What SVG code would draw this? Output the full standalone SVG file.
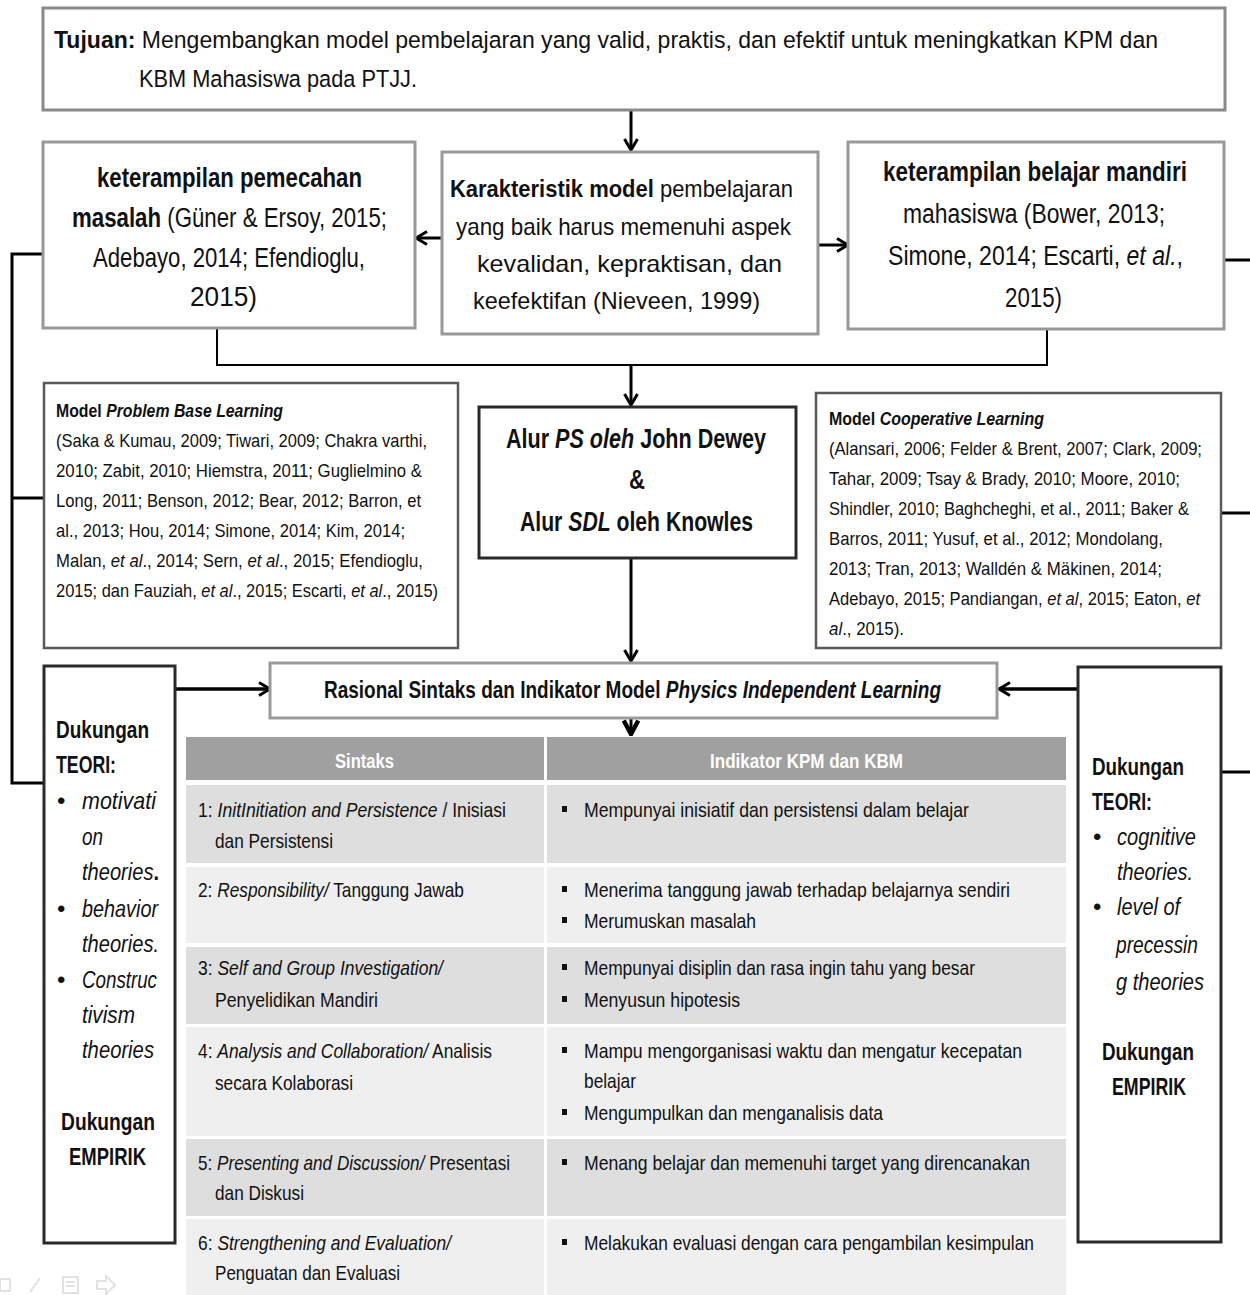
<svg xmlns="http://www.w3.org/2000/svg" width="1250" height="1295" viewBox="0 0 1250 1295">
<style>
text{font-family:'Liberation Sans',Arial,sans-serif;fill:#111}
.s26{font-size:27px}
.s22{font-size:24px}
.s24{font-size:24.5px}
.s19{font-size:19px}
.tb{font-size:21px}
.b{font-weight:bold}
.i{font-style:italic}
.wh{fill:#fff;font-weight:bold;font-size:20px}
.conn{stroke:#000;fill:none}
.boxg{fill:#fff;stroke:#999;stroke-width:3}
.boxd{fill:#fff;stroke:#2a2a2a;stroke-width:3}
.boxm{fill:#fff;stroke:#5a5a5a;stroke-width:2.5}
.rd{fill:#dedede}
.rl{fill:#efefef}
</style>
<defs>
<marker id="chev" viewBox="0 0 16 16" refX="14" refY="8" markerWidth="16" markerHeight="16" markerUnits="userSpaceOnUse" orient="auto">
<path d="M3,1.5 L14,8 L3,14.5" fill="none" stroke="#000" stroke-width="3"/>
</marker>
<marker id="chevb" viewBox="0 0 16 16" refX="14" refY="8" markerWidth="18" markerHeight="18" markerUnits="userSpaceOnUse" orient="auto">
<path d="M2,1.5 L14,8 L2,14.5" fill="none" stroke="#000" stroke-width="4"/>
</marker>
</defs>
<rect width="1250" height="1295" fill="#fff"/>

<g id="connectors">
<line class="conn" stroke-width="3" x1="631" y1="111" x2="631" y2="150" marker-end="url(#chev)"/>
<line class="conn" stroke-width="3" x1="442" y1="238" x2="416" y2="238" marker-end="url(#chev)"/>
<line class="conn" stroke-width="3" x1="818" y1="245" x2="848" y2="245" marker-end="url(#chev)"/>
<polyline class="conn" stroke-width="2" points="217,329 217,365 1047,365 1047,329"/>
<line class="conn" stroke-width="3" x1="631" y1="365" x2="631" y2="405" marker-end="url(#chev)"/>
<line class="conn" stroke-width="3" x1="631" y1="558" x2="631" y2="661" marker-end="url(#chev)"/>
<line class="conn" stroke-width="3" x1="631" y1="718" x2="631" y2="734" marker-end="url(#chevb)"/>
<line class="conn" stroke-width="3.5" x1="176" y1="689" x2="270" y2="689" marker-end="url(#chev)"/>
<line class="conn" stroke-width="3.5" x1="1078" y1="689" x2="999" y2="689" marker-end="url(#chev)"/>
<polyline class="conn" stroke-width="3" points="43,254 12,254 12,783 44,783"/>
<line class="conn" stroke-width="3" x1="12" y1="498" x2="43" y2="498"/>
<line class="conn" stroke-width="3" x1="1225" y1="260" x2="1250" y2="260"/>
<line class="conn" stroke-width="3" x1="1221" y1="513" x2="1250" y2="513"/>
<line class="conn" stroke-width="3" x1="1221" y1="772" x2="1250" y2="772"/>
</g>

<g id="tujuan">
<rect x="43" y="8" width="1182" height="102" fill="#fff" stroke="#8a8a8a" stroke-width="3"/>
<text class="s24" x="54" y="48" textLength="1104" lengthAdjust="spacingAndGlyphs"><tspan class="b">Tujuan:</tspan> Mengembangkan model pembelajaran yang valid, praktis, dan efektif untuk meningkatkan KPM dan</text>
<text class="s24" x="139" y="87" textLength="278" lengthAdjust="spacingAndGlyphs">KBM Mahasiswa pada PTJJ.</text>
</g>

<g id="kpm">
<rect class="boxg" x="43" y="142" width="372" height="186"/>
<text class="s26 b" x="97" y="187" textLength="265" lengthAdjust="spacingAndGlyphs">keterampilan pemecahan</text>
<text class="s26" x="72" y="227" textLength="315" lengthAdjust="spacingAndGlyphs"><tspan class="b">masalah</tspan> (Güner &amp; Ersoy, 2015;</text>
<text class="s26" x="93" y="267" textLength="272" lengthAdjust="spacingAndGlyphs">Adebayo, 2014; Efendioglu,</text>
<text class="s26" x="190" y="306" textLength="67" lengthAdjust="spacingAndGlyphs">2015)</text>
</g>

<g id="karakteristik">
<rect class="boxg" x="442" y="152" width="376" height="182"/>
<text class="s22" x="450" y="197" textLength="343" lengthAdjust="spacingAndGlyphs"><tspan class="b">Karakteristik model</tspan> pembelajaran</text>
<text class="s22" x="456" y="235" textLength="335" lengthAdjust="spacingAndGlyphs">yang baik harus memenuhi aspek</text>
<text class="s22" x="477" y="272" textLength="305" lengthAdjust="spacingAndGlyphs">kevalidan, kepraktisan, dan</text>
<text class="s22" x="473" y="309" textLength="287" lengthAdjust="spacingAndGlyphs">keefektifan (Nieveen, 1999)</text>
</g>

<g id="kbm">
<rect class="boxg" x="848" y="142" width="376" height="187"/>
<text class="s26 b" x="883" y="181" textLength="304" lengthAdjust="spacingAndGlyphs">keterampilan belajar mandiri</text>
<text class="s26" x="903" y="223" textLength="262" lengthAdjust="spacingAndGlyphs">mahasiswa  (Bower, 2013;</text>
<text class="s26" x="888" y="265" textLength="295" lengthAdjust="spacingAndGlyphs">Simone, 2014; Escarti, <tspan class="i">et al.</tspan>,</text>
<text class="s26" x="1005" y="307" textLength="57" lengthAdjust="spacingAndGlyphs">2015)</text>
</g>

<g id="pbl">
<rect class="boxm" x="44" y="383" width="414" height="265"/>
<text class="s19 b" x="56" y="417" textLength="227" lengthAdjust="spacingAndGlyphs">Model <tspan class="i">Problem Base Learning</tspan></text>
<text class="s19" x="56" y="447" textLength="371" lengthAdjust="spacingAndGlyphs">(Saka &amp; Kumau, 2009; Tiwari, 2009; Chakra varthi,</text>
<text class="s19" x="56" y="477" textLength="366" lengthAdjust="spacingAndGlyphs">2010; Zabit, 2010; Hiemstra, 2011; Guglielmino &amp;</text>
<text class="s19" x="56" y="507" textLength="365" lengthAdjust="spacingAndGlyphs">Long, 2011; Benson, 2012; Bear, 2012; Barron, et</text>
<text class="s19" x="56" y="537" textLength="349" lengthAdjust="spacingAndGlyphs">al., 2013; Hou, 2014; Simone, 2014; Kim, 2014;</text>
<text class="s19" x="56" y="567" textLength="367" lengthAdjust="spacingAndGlyphs">Malan, <tspan class="i">et al</tspan>., 2014; Sern, <tspan class="i">et al</tspan>., 2015; Efendioglu,</text>
<text class="s19" x="56" y="597" textLength="382" lengthAdjust="spacingAndGlyphs">2015; dan Fauziah, <tspan class="i">et al</tspan>., 2015; Escarti, <tspan class="i">et al</tspan>., 2015)</text>
</g>

<g id="alur">
<rect class="boxd" x="479" y="407" width="317" height="151" stroke-width="3.5"/>
<text class="s26 b" x="506" y="448" textLength="260" lengthAdjust="spacingAndGlyphs">Alur <tspan class="i">PS oleh</tspan> John Dewey</text>
<text class="s26 b" x="629" y="489" textLength="16" lengthAdjust="spacingAndGlyphs">&amp;</text>
<text class="s26 b" x="520" y="531" textLength="233" lengthAdjust="spacingAndGlyphs">Alur <tspan class="i">SDL</tspan> oleh Knowles</text>
</g>

<g id="cl">
<rect class="boxm" x="816" y="393" width="405" height="255"/>
<text class="s19 b" x="829" y="425" textLength="215" lengthAdjust="spacingAndGlyphs">Model <tspan class="i">Cooperative Learning</tspan></text>
<text class="s19" x="829" y="455" textLength="373" lengthAdjust="spacingAndGlyphs">(Alansari, 2006; Felder &amp; Brent, 2007; Clark, 2009;</text>
<text class="s19" x="829" y="485" textLength="351" lengthAdjust="spacingAndGlyphs">Tahar, 2009; Tsay &amp; Brady, 2010; Moore, 2010;</text>
<text class="s19" x="829" y="515" textLength="360" lengthAdjust="spacingAndGlyphs">Shindler, 2010; Baghcheghi, et al., 2011; Baker &amp;</text>
<text class="s19" x="829" y="545" textLength="334" lengthAdjust="spacingAndGlyphs">Barros, 2011; Yusuf, et al., 2012; Mondolang,</text>
<text class="s19" x="829" y="575" textLength="333" lengthAdjust="spacingAndGlyphs">2013; Tran, 2013; Walldén &amp; Mäkinen, 2014;</text>
<text class="s19" x="829" y="605" textLength="371" lengthAdjust="spacingAndGlyphs">Adebayo, 2015; Pandiangan, <tspan class="i">et al</tspan>, 2015; Eaton, <tspan class="i">et</tspan></text>
<text class="s19" x="829" y="635" textLength="75" lengthAdjust="spacingAndGlyphs"><tspan class="i">al</tspan>., 2015).</text>
</g>

<g id="rasional">
<rect x="270" y="663" width="727" height="55" fill="#fff" stroke="#9a9a9a" stroke-width="3"/>
<text class="s22 b" x="324" y="698" textLength="617" lengthAdjust="spacingAndGlyphs">Rasional Sintaks  dan Indikator Model <tspan class="i">Physics Independent Learning</tspan></text>
</g>

<g id="teori-kiri">
<rect class="boxd" x="44" y="666" width="131" height="577"/>
<text class="s22 b" x="56" y="738" textLength="93" lengthAdjust="spacingAndGlyphs">Dukungan</text>
<text class="s22 b" x="56" y="773" textLength="60" lengthAdjust="spacingAndGlyphs">TEORI:</text>
<text class="s22" x="57" y="809">•</text>
<text class="s22 i" x="82" y="809" textLength="74" lengthAdjust="spacingAndGlyphs">motivati</text>
<text class="s22 i" x="82" y="845" textLength="21" lengthAdjust="spacingAndGlyphs">on</text>
<text class="s22 i" x="82" y="880" textLength="77" lengthAdjust="spacingAndGlyphs">theories<tspan class="b" font-style="normal">.</tspan></text>
<text class="s22" x="57" y="917">•</text>
<text class="s22 i" x="82" y="917" textLength="76" lengthAdjust="spacingAndGlyphs">behavior</text>
<text class="s22 i" x="82" y="952" textLength="77" lengthAdjust="spacingAndGlyphs">theories.</text>
<text class="s22" x="57" y="988">•</text>
<text class="s22 i" x="82" y="988" textLength="75" lengthAdjust="spacingAndGlyphs">Construc</text>
<text class="s22 i" x="82" y="1023" textLength="53" lengthAdjust="spacingAndGlyphs">tivism</text>
<text class="s22 i" x="82" y="1058" textLength="72" lengthAdjust="spacingAndGlyphs">theories</text>
<text class="s22 b" x="61" y="1130" textLength="94" lengthAdjust="spacingAndGlyphs">Dukungan</text>
<text class="s22 b" x="69" y="1165" textLength="77" lengthAdjust="spacingAndGlyphs">EMPIRIK</text>
</g>

<g id="teori-kanan">
<rect class="boxd" x="1078" y="667" width="143" height="575"/>
<text class="s22 b" x="1092" y="775" textLength="92" lengthAdjust="spacingAndGlyphs">Dukungan</text>
<text class="s22 b" x="1092" y="810" textLength="60" lengthAdjust="spacingAndGlyphs">TEORI:</text>
<text class="s22" x="1093" y="845">•</text>
<text class="s22 i" x="1117" y="845" textLength="79" lengthAdjust="spacingAndGlyphs">cognitive</text>
<text class="s22 i" x="1117" y="880" textLength="76" lengthAdjust="spacingAndGlyphs">theories.</text>
<text class="s22" x="1093" y="915">•</text>
<text class="s22 i" x="1117" y="915" textLength="63" lengthAdjust="spacingAndGlyphs">level of</text>
<text class="s22 i" x="1116" y="953" textLength="82" lengthAdjust="spacingAndGlyphs">precessin</text>
<text class="s22 i" x="1116" y="990" textLength="88" lengthAdjust="spacingAndGlyphs">g theories</text>
<text class="s22 b" x="1102" y="1060" textLength="92" lengthAdjust="spacingAndGlyphs">Dukungan</text>
<text class="s22 b" x="1112" y="1095" textLength="74" lengthAdjust="spacingAndGlyphs">EMPIRIK</text>
</g>

<g id="tabel">
<rect x="186" y="737" width="358" height="43" fill="#a0a0a0"/>
<rect x="547" y="737" width="519" height="43" fill="#a0a0a0"/>
<rect class="rd" x="186" y="785" width="358" height="78"/>
<rect class="rd" x="547" y="785" width="519" height="78"/>
<rect class="rl" x="186" y="867" width="358" height="76"/>
<rect class="rl" x="547" y="867" width="519" height="76"/>
<rect class="rd" x="186" y="947" width="358" height="77"/>
<rect class="rd" x="547" y="947" width="519" height="77"/>
<rect class="rl" x="186" y="1027" width="358" height="109"/>
<rect class="rl" x="547" y="1027" width="519" height="109"/>
<rect class="rd" x="186" y="1139" width="358" height="77"/>
<rect class="rd" x="547" y="1139" width="519" height="77"/>
<rect class="rl" x="186" y="1219" width="358" height="76"/>
<rect class="rl" x="547" y="1219" width="519" height="76"/>
<text class="wh" x="335" y="768" textLength="59" lengthAdjust="spacingAndGlyphs">Sintaks</text>
<text class="wh" x="710" y="768" textLength="193" lengthAdjust="spacingAndGlyphs">Indikator KPM dan KBM</text>

<text class="tb" x="198" y="817" textLength="308" lengthAdjust="spacingAndGlyphs">1: <tspan class="i">InitInitiation and Persistence</tspan> / Inisiasi</text>
<text class="tb" x="215" y="848" textLength="118" lengthAdjust="spacingAndGlyphs">dan Persistensi</text>
<text class="tb" x="198" y="897" textLength="266" lengthAdjust="spacingAndGlyphs">2: <tspan class="i">Responsibility/</tspan> Tanggung Jawab</text>
<text class="tb" x="198" y="975" textLength="245" lengthAdjust="spacingAndGlyphs">3: <tspan class="i">Self and Group Investigation/</tspan></text>
<text class="tb" x="215" y="1007" textLength="163" lengthAdjust="spacingAndGlyphs">Penyelidikan Mandiri</text>
<text class="tb" x="198" y="1058" textLength="294" lengthAdjust="spacingAndGlyphs">4: <tspan class="i">Analysis and Collaboration/</tspan> Analisis</text>
<text class="tb" x="215" y="1090" textLength="138" lengthAdjust="spacingAndGlyphs">secara Kolaborasi</text>
<text class="tb" x="198" y="1170" textLength="312" lengthAdjust="spacingAndGlyphs">5: <tspan class="i">Presenting and Discussion/</tspan> Presentasi</text>
<text class="tb" x="215" y="1200" textLength="89" lengthAdjust="spacingAndGlyphs">dan Diskusi</text>
<text class="tb" x="198" y="1250" textLength="253" lengthAdjust="spacingAndGlyphs">6: <tspan class="i">Strengthening and Evaluation/</tspan></text>
<text class="tb" x="215" y="1280" textLength="185" lengthAdjust="spacingAndGlyphs">Penguatan dan Evaluasi</text>

<g fill="#111">
<rect x="562" y="806" width="5" height="6"/>
<rect x="562" y="886" width="5" height="6"/>
<rect x="562" y="917" width="5" height="6"/>
<rect x="562" y="964" width="5" height="6"/>
<rect x="562" y="996" width="5" height="6"/>
<rect x="562" y="1047" width="5" height="6"/>
<rect x="562" y="1109" width="5" height="6"/>
<rect x="562" y="1159" width="5" height="6"/>
<rect x="562" y="1239" width="5" height="6"/>
</g>
<text class="tb" x="584" y="817" textLength="385" lengthAdjust="spacingAndGlyphs">Mempunyai inisiatif dan persistensi dalam belajar</text>
<text class="tb" x="584" y="897" textLength="426" lengthAdjust="spacingAndGlyphs">Menerima tanggung jawab terhadap belajarnya sendiri</text>
<text class="tb" x="584" y="928" textLength="172" lengthAdjust="spacingAndGlyphs">Merumuskan masalah</text>
<text class="tb" x="584" y="975" textLength="391" lengthAdjust="spacingAndGlyphs">Mempunyai disiplin  dan rasa ingin tahu yang besar</text>
<text class="tb" x="584" y="1007" textLength="156" lengthAdjust="spacingAndGlyphs">Menyusun hipotesis</text>
<text class="tb" x="584" y="1058" textLength="438" lengthAdjust="spacingAndGlyphs">Mampu mengorganisasi waktu dan mengatur kecepatan</text>
<text class="tb" x="584" y="1088" textLength="52" lengthAdjust="spacingAndGlyphs">belajar</text>
<text class="tb" x="584" y="1120" textLength="299" lengthAdjust="spacingAndGlyphs">Mengumpulkan dan menganalisis data</text>
<text class="tb" x="584" y="1170" textLength="446" lengthAdjust="spacingAndGlyphs">Menang belajar dan memenuhi target yang direncanakan</text>
<text class="tb" x="584" y="1250" textLength="450" lengthAdjust="spacingAndGlyphs">Melakukan evaluasi dengan cara pengambilan kesimpulan</text>
</g>

<g id="slide-icons" fill="none" stroke="#e2e2e2" stroke-width="2">
<rect x="0" y="1279" width="10" height="12"/>
<line x1="30" y1="1292" x2="40" y2="1278"/>
<rect x="63" y="1277" width="15" height="16"/>
<line x1="66" y1="1282" x2="75" y2="1282"/>
<line x1="66" y1="1286" x2="75" y2="1286"/>
<path d="M97,1281 H106 V1276 L115,1285 L106,1294 V1289 H97 Z"/>
</g>
</svg>
